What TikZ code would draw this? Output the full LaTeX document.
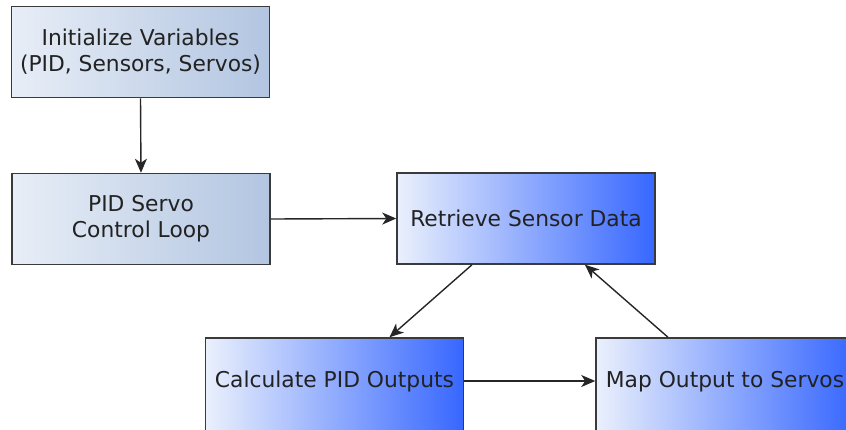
\documentclass[tikz,border=0pt]{standalone}
\usepackage{fontspec}
\setmainfont{DejaVu Sans}
\usepackage{tikz}
\usetikzlibrary{arrows.meta,calc}
\definecolor{greyleft}{HTML}{E8EEF7}
\definecolor{greyright}{HTML}{B2C5E1}
\definecolor{blueleft}{HTML}{EAF0FC}
\definecolor{blueright}{HTML}{3767FF}
\definecolor{edgecol}{HTML}{3A3A3A}
\definecolor{linecol}{HTML}{262626}
\definecolor{textcol}{HTML}{222222}
\tikzset{
  box/.style={draw=edgecol,line width=1.5pt,minimum width=258,minimum height=91,
    align=center,text=textcol,font=\fontsize{21.8}{26}\selectfont,inner sep=0pt},
  greybox/.style={box,left color=greyleft,right color=greyright},
  bluebox/.style={box,left color=blueleft,right color=blueright},
  lowbox/.style={bluebox,minimum height=100,text depth=17pt},
  arr/.style={draw=linecol,line width=1.4pt,-{Stealth[length=14pt,width=12pt,inset=4pt]}}
}

\begin{document}
\begin{tikzpicture}[x=1pt,y=-1pt]
\useasboundingbox (0,0) rectangle (846,429);
\clip (0,0) rectangle (846,429);
% boxes
\node[greybox] (init) at (140.5,52) {Initialize Variables\\(PID, Sensors, Servos)};
\node[greybox] (loop) at (141,219) {PID Servo\\Control Loop};
\node[bluebox] (retrieve) at (526,218.5) {Retrieve Sensor Data};
\node[lowbox] (calcpid) at (334.5,388) {Calculate PID Outputs};
\node[lowbox] (mapout) at (725,388) {Map Output to Servos};
% arrows
\draw[arr] (init.south) -- (loop.north);
\draw[arr] (loop.east) -- (retrieve.east -| retrieve.west);
\draw[arr] ($(retrieve.south)+(-54,0)$) -- ($(calcpid.north)+(55,0)$);
\draw[arr] ($(calcpid.east)+(0,-7)$) -- ($(mapout.west)+(0,-7)$);
\draw[arr] ($(mapout.north)+(-57,0)$) -- ($(retrieve.south)+(59,0)$);
\end{tikzpicture}
\end{document}
